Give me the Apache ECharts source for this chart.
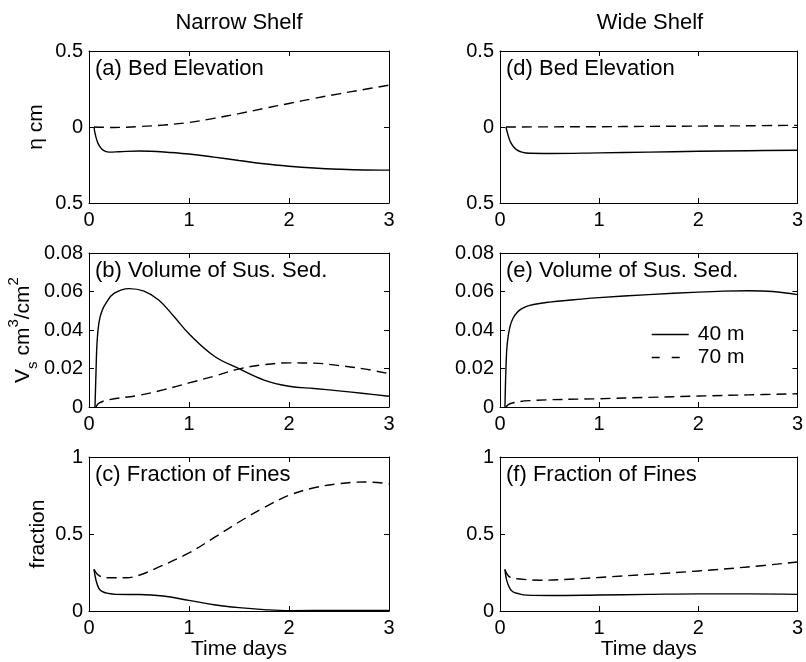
<!DOCTYPE html>
<html lang="en">
<head>
<meta charset="UTF-8">
<title>Bed elevation, suspended sediment and fines</title>
<script src="https://cdn.jsdelivr.net/npm/echarts@6/dist/echarts.min.js"></script>
<style>
  html,body{margin:0;padding:0;background:#fff;}
  #main{width:806px;height:662px;}
</style>
</head>
<body>
<div id="main"></div>
<script>
// --- data (time in days) ---
// (a) narrow shelf, bed elevation (cm)
var tA40 = [0.05, 0.06, 0.08, 0.1, 0.14, 0.2, 0.3, 0.5, 0.75, 1, 1.25, 1.5, 1.75, 2, 2.25, 2.5, 2.75, 3];
var elevN40 = [0, -0.04, -0.09, -0.12, -0.152, -0.165, -0.163, -0.158, -0.164, -0.178, -0.198, -0.22, -0.242, -0.258, -0.27, -0.278, -0.283, -0.284];
var tA70 = [0.05, 0.25, 0.5, 0.75, 1, 1.25, 1.5, 1.75, 2, 2.25, 2.5, 2.75, 3];
var elevN70 = [0, -0.003, 0.003, 0.013, 0.03, 0.057, 0.088, 0.122, 0.155, 0.188, 0.218, 0.247, 0.275];

// (d) wide shelf, bed elevation (cm)
var tD40 = [0.06, 0.08, 0.1, 0.13, 0.17, 0.22, 0.3, 0.5, 1, 1.5, 2, 2.5, 3];
var elevW40 = [0, -0.05, -0.09, -0.125, -0.15, -0.165, -0.173, -0.174, -0.17, -0.165, -0.16, -0.156, -0.153];
var tD70 = [0.06, 0.5, 1, 1.5, 2, 2.5, 3];
var elevW70 = [0, 0.001, 0.002, 0.004, 0.006, 0.008, 0.011];

// (b) narrow shelf, volume of suspended sediment (cm3/cm2)
var tB40 = [0.06, 0.07, 0.08, 0.1, 0.13, 0.17, 0.25, 0.4, 0.55, 0.7, 0.85, 1, 1.25, 1.5, 1.75, 2, 2.25, 2.5, 2.75, 3];
var volN40 = [0, 0.018, 0.033, 0.044, 0.05, 0.054, 0.059, 0.0615, 0.0602, 0.0555, 0.047, 0.038, 0.0265, 0.0199, 0.014, 0.0108, 0.0096, 0.0084, 0.007, 0.0056];
var tB70 = [0.07, 0.1, 0.2, 0.5, 0.75, 1, 1.25, 1.5, 1.75, 2, 2.25, 2.5, 2.75, 3];
var volN70 = [0, 0.002, 0.0038, 0.0061, 0.009, 0.0125, 0.016, 0.0198, 0.022, 0.0229, 0.0228, 0.0215, 0.0198, 0.0173];

// (e) wide shelf, volume of suspended sediment
var tE40 = [0.05, 0.06, 0.073, 0.1, 0.13, 0.17, 0.22, 0.3, 0.5, 0.75, 1, 1.5, 2, 2.25, 2.5, 2.75, 3];
var volW40 = [0, 0.02, 0.033, 0.0416, 0.046, 0.049, 0.0511, 0.0528, 0.0545, 0.0557, 0.0568, 0.0584, 0.0597, 0.0602, 0.0604, 0.06, 0.0584];
var tE70 = [0.06, 0.1, 0.3, 1, 1.5, 2, 2.5, 3];
var volW70 = [0, 0.0017, 0.0033, 0.0043, 0.005, 0.0057, 0.0063, 0.0069];

// (c) narrow shelf, fraction of fines
var tC40 = [0.05, 0.07, 0.1, 0.13, 0.17, 0.27, 0.5, 0.74, 1, 1.25, 1.5, 1.75, 2, 2.5, 3];
var fineN40 = [0.27, 0.2, 0.145, 0.127, 0.117, 0.108, 0.107, 0.097, 0.069, 0.041, 0.022, 0.009, 0.002, 0.004, 0.004];
var tC70 = [0.05, 0.1, 0.2, 0.37, 0.5, 0.7, 1, 1.25, 1.5, 1.75, 2, 2.25, 2.5, 2.75, 3];
var fineN70 = [0.27, 0.23, 0.216, 0.216, 0.232, 0.286, 0.377, 0.476, 0.578, 0.671, 0.751, 0.8, 0.827, 0.838, 0.827];

// (f) wide shelf, fraction of fines
var tF40 = [0.05, 0.067, 0.1, 0.13, 0.17, 0.27, 0.5, 1, 1.5, 2, 2.5, 3];
var fineW40 = [0.27, 0.2, 0.145, 0.125, 0.115, 0.103, 0.101, 0.104, 0.108, 0.111, 0.111, 0.108];
var tF70 = [0.05, 0.1, 0.2, 0.4, 0.7, 1, 1.5, 2, 2.5, 3];
var fineW70 = [0.27, 0.22, 0.208, 0.2, 0.206, 0.218, 0.238, 0.26, 0.286, 0.318];

var seriesNames = ['40 m', '70 m'];
var columnTitles = ['Narrow Shelf', 'Wide Shelf'];
var panelLabels = ['(a) Bed Elevation', '(b) Volume of Sus. Sed.', '(c) Fraction of Fines',
                   '(d) Bed Elevation', '(e) Volume of Sus. Sed.', '(f) Fraction of Fines'];

// --- layout ---
var FONT = 'Liberation Sans, Arial, Helvetica, sans-serif';
var FS = 20;      // tick labels
var FT = 22;      // titles, panel labels
var FN = 21;      // axis names, legend
var colLeft = [89, 500];
var plotW = 300;
var rowTop = [51, 253, 457];
var rowH = [152, 154, 154];
var yRanges = [
  {min: -0.5, max: 0.5, interval: 0.5},
  {min: 0, max: 0.08, interval: 0.02},
  {min: 0, max: 1, interval: 0.5}
];

function zip(t, v) {
  return t.map(function (x, i) { return [x, v[i]]; });
}

var panels = [
  {col: 0, row: 0, d40: zip(tA40, elevN40), d70: zip(tA70, elevN70)},
  {col: 0, row: 1, d40: zip(tB40, volN40), d70: zip(tB70, volN70)},
  {col: 0, row: 2, d40: zip(tC40, fineN40), d70: zip(tC70, fineN70)},
  {col: 1, row: 0, d40: zip(tD40, elevW40), d70: zip(tD70, elevW70)},
  {col: 1, row: 1, d40: zip(tE40, volW40), d70: zip(tE70, volW70)},
  {col: 1, row: 2, d40: zip(tF40, fineW40), d70: zip(tF70, fineW70)}
];

var grids = [], xAxes = [], yAxes = [], series = [], graphics = [];
var tickIn = {inside: true, length: 5, lineStyle: {color: '#000', width: 1}};

panels.forEach(function (p, i) {
  grids.push({left: colLeft[p.col], top: rowTop[p.row], width: plotW, height: rowH[p.row]});
  var yr = yRanges[p.row];

  var xb = {
    type: 'value', gridIndex: i, position: 'bottom', min: 0, max: 3, interval: 1,
    axisLine: {onZero: false, lineStyle: {color: '#000', width: 1}},
    axisTick: tickIn, splitLine: {show: false},
    axisLabel: {color: '#000', fontFamily: FONT, fontSize: FS, margin: 7}
  };
  if (p.row === 2) {
    xb.name = 'Time days';
    xb.nameLocation = 'middle';
    xb.nameGap = 27;
    xb.nameTextStyle = {color: '#000', fontFamily: FONT, fontSize: FN};
  }
  xAxes.push(xb);
  xAxes.push({
    type: 'value', gridIndex: i, position: 'top', min: 0, max: 3, interval: 1,
    axisLine: {onZero: false, lineStyle: {color: '#000', width: 1}},
    axisTick: tickIn, axisLabel: {show: false}, splitLine: {show: false}
  });

  var yl = {
    type: 'value', gridIndex: i, position: 'left', min: yr.min, max: yr.max, interval: yr.interval,
    axisLine: {onZero: false, lineStyle: {color: '#000', width: 1}},
    axisTick: tickIn, splitLine: {show: false},
    axisLabel: {
      color: '#000', fontFamily: FONT, fontSize: FS, margin: 6,
      formatter: function (v) { return String(Math.abs(+v.toFixed(4))); }
    }
  };
  if (p.col === 0) {
    yl.nameLocation = 'middle';
    yl.nameTextStyle = {color: '#000', fontFamily: FONT, fontSize: FN};
    if (p.row === 0) { yl.name = 'η cm'; yl.nameGap = 42; }
    if (p.row === 2) { yl.name = 'fraction'; yl.nameGap = 40; }
    if (p.row === 1) {
      yl.name = '{m|V}{sub|s}{m| cm}{sup|3}{m|/cm}{sup|2}';
      yl.nameGap = 47;
      yl.nameTextStyle = {
        color: '#000', fontFamily: FONT, fontSize: FN,
        rich: {
          m: {fontFamily: FONT, fontSize: FN, color: '#000', lineHeight: 34, verticalAlign: 'middle'},
          sub: {fontFamily: FONT, fontSize: 15, color: '#000', lineHeight: 14, verticalAlign: 'bottom'},
          sup: {fontFamily: FONT, fontSize: 15, color: '#000', lineHeight: 14, verticalAlign: 'top'}
        }
      };
    }
  }
  yAxes.push(yl);
  yAxes.push({
    type: 'value', gridIndex: i, position: 'right', min: yr.min, max: yr.max, interval: yr.interval,
    axisLine: {onZero: false, lineStyle: {color: '#000', width: 1}},
    axisTick: tickIn, axisLabel: {show: false}, splitLine: {show: false}
  });

  series.push({
    name: seriesNames[0], type: 'line', xAxisIndex: 2 * i, yAxisIndex: 2 * i,
    data: p.d40, showSymbol: false, symbol: 'none', smooth: 0.4,
    lineStyle: {color: '#000', width: 1.4, type: 'solid'}, itemStyle: {color: '#000'},
    silent: true
  });
  series.push({
    name: seriesNames[1], type: 'line', xAxisIndex: 2 * i, yAxisIndex: 2 * i,
    data: p.d70, showSymbol: false, symbol: 'none', smooth: 0.4,
    lineStyle: {color: '#000', width: 1.4, type: [10, 6]}, itemStyle: {color: '#000'},
    silent: true
  });

  graphics.push({
    type: 'text', left: colLeft[p.col] + 6, top: rowTop[p.row] + 7,
    style: {text: panelLabels[i], font: FT + 'px ' + FONT, fill: '#000'}
  });
});

columnTitles.forEach(function (t, c) {
  graphics.push({
    type: 'text', x: colLeft[c] + plotW / 2, y: 23,
    style: {text: t, font: FT + 'px ' + FONT, fill: '#000', align: 'center', verticalAlign: 'middle'}
  });
});

var chart = echarts.init(document.getElementById('main'), null, {renderer: 'canvas'});
chart.setOption({
  backgroundColor: '#fff',
  animation: false,
  grid: grids,
  xAxis: xAxes,
  yAxis: yAxes,
  legend: {
    data: [
      {name: seriesNames[0], lineStyle: {type: 'solid', width: 1.4}},
      {name: seriesNames[1], lineStyle: {type: [8, 12], width: 1.4}}
    ],
    orient: 'vertical', left: 646, top: 319,
    itemWidth: 37, itemHeight: 14, itemGap: 2,
    itemStyle: {opacity: 0},
    textStyle: {color: '#000', fontFamily: FONT, fontSize: FN, padding: [0, 0, 0, 4]},
    selectedMode: false
  },
  graphic: graphics,
  series: series
});
</script>
</body>
</html>
